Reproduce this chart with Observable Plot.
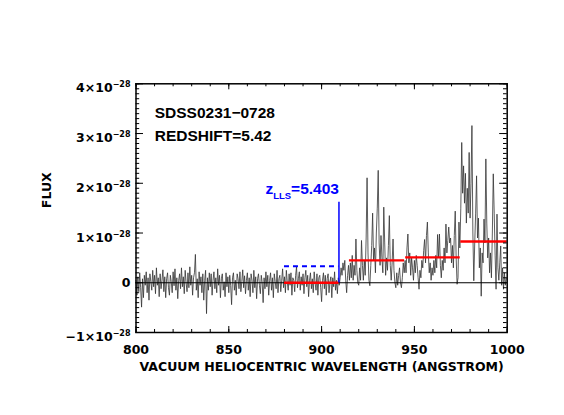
<!DOCTYPE html>
<html>
<head>
<meta charset="utf-8">
<script src="https://cdn.jsdelivr.net/npm/d3@7"></script>
<script src="https://cdn.jsdelivr.net/npm/@observablehq/plot@0.6"></script>
<style>
  html, body { margin: 0; padding: 0; background: white; }
</style>
</head>
<body>
<div id="chart"></div>
<script>
// ---- data (flux in units of 1e-28) ----
const waveStart = 800;
const waveStep = 0.5;
const flux = [
  // 800-809.5
  0.05,-0.25,0.12,-0.18,0.20,-0.10,-0.49,0.08,-0.30,0.15,-0.05,0.22,-0.20,0.10,-0.35,0.18,0.02,-0.15,0.25,-0.08,
  // 810
  0.15,-0.22,0.30,-0.05,0.10,-0.28,0.18,-0.12,0.05,0.26,-0.18,0.12,-0.30,0.08,0.20,-0.10,-0.25,0.15,0.02,-0.20,
  // 820
  0.22,-0.06,0.28,-0.15,0.10,-0.32,0.05,0.18,-0.12,0.30,-0.08,0.12,-0.22,0.25,0.00,-0.18,0.20,-0.10,0.32,-0.05,
  // 830
  0.15,-0.25,0.10,0.20,0.57,-0.15,0.08,-0.30,0.22,-0.05,0.12,-0.20,0.18,-0.35,0.05,0.25,-0.62,0.10,-0.15,0.20,
  // 840
  -0.08,0.18,-0.25,0.05,0.22,-0.12,0.10,-0.20,0.28,-0.05,0.15,-0.30,0.08,0.18,-0.15,0.02,-0.28,0.20,-0.08,0.12,
  // 850
  -0.20,0.15,-0.05,-0.44,0.10,0.20,-0.15,0.05,-0.25,0.18,0.08,-0.12,0.22,-0.18,0.02,0.26,-0.10,0.14,-0.22,0.05,
  // 860
  0.20,-0.15,0.10,-0.28,0.18,0.05,-0.20,0.25,-0.10,0.12,-0.32,0.08,0.18,-0.05,-0.22,0.15,0.00,-0.40,0.10,-0.12,
  // 870
  0.22,-0.08,0.15,-0.25,0.05,0.20,-0.15,0.10,-0.30,0.18,0.02,-0.12,0.25,-0.20,0.08,0.15,-0.18,0.05,0.28,-0.10,
  // 880
  0.12,-0.20,0.25,0.02,-0.15,0.18,-0.05,0.20,-0.25,0.10,0.05,-0.18,0.15,0.32,-0.10,0.08,0.22,-0.15,0.12,-0.05,
  // 890
  0.18,-0.22,0.10,0.25,-0.08,0.15,-0.28,0.05,0.20,-0.12,0.08,-0.20,0.22,0.00,-0.15,0.18,-0.25,0.10,0.15,-0.10,
  // 900
  -0.38,0.05,0.20,-0.12,0.15,-0.25,0.08,0.18,-0.20,0.02,0.12,-0.30,0.10,-0.08,0.22,-0.15,0.05,-0.22,0.10,-0.05,
  // 910
  0.10,0.30,0.15,0.40,0.25,0.45,0.05,-0.20,0.15,0.35,
  // 915
  0.05,0.40,0.10,0.55,0.05,0.35,0.15,0.88,0.25,0.00,
  // 920
  -0.05,0.30,0.05,0.85,0.35,0.05,0.45,0.15,0.90,2.11,
  // 925
  0.60,0.05,-0.06,0.35,0.75,1.40,0.45,0.70,0.20,1.00,
  // 930
  1.50,2.26,0.80,0.35,0.95,0.50,0.20,1.52,0.80,0.15,
  // 935
  0.50,0.25,0.75,1.35,0.35,0.05,0.40,0.88,0.25,0.00,
  // 940
  -0.10,0.20,-0.05,0.15,0.30,0.00,-0.10,0.10,0.40,0.20,
  // 945
  0.45,0.20,0.70,0.98,0.40,0.60,0.15,0.50,0.30,0.05,
  // 950
  0.45,0.20,0.55,0.35,0.10,-0.13,0.25,0.10,0.45,0.30,
  // 955
  0.65,0.87,0.40,0.95,1.22,0.60,0.20,0.40,0.05,0.30,
  // 960
  0.15,0.45,0.20,0.55,0.30,0.97,0.50,0.98,0.35,0.10,
  // 965
  0.45,0.25,0.70,0.40,1.18,0.60,0.85,1.12,0.80,0.90,
  // 970
  0.40,0.75,0.30,0.95,1.44,0.50,-0.03,0.10,1.22,0.70,
  // 975
  1.50,2.82,1.80,2.35,1.60,2.20,1.20,1.90,1.40,2.62,
  // 980
  1.30,2.00,3.16,1.00,0.04,0.80,1.40,2.15,0.90,1.30,
  // 985
  0.30,0.70,-0.27,0.60,0.40,1.28,0.80,2.49,1.20,0.50,
  // 990
  0.90,0.20,0.60,0.10,1.00,2.19,1.40,0.54,-0.13,1.38,
  // 995
  0.30,0.05,0.40,0.74,-0.05,0.30,-0.13,0.20,-0.05,0.10
];

// binned mean flux levels (red) and LLS marker (blue)
const binStart = [880, 915, 945.3, 975];
const binEnd   = [909.35, 944.7, 974.7, 1000];
const binMean  = [0.00, 0.45, 0.51, 0.83];
const llsWave = 909.35;
const llsTop = 1.62;
const dashedStart = 880;
const dashedLevel = 0.33;

const objectName = "SDSS0231\u22120728";
const redshiftText = "REDSHIFT=5.42";
const llsParts = ["z", "LLS", "=5.403"];

const xMajor = [800, 850, 900, 950, 1000];
const xMinor = d3.range(800, 1001, 10);
const yMajor = [-1, 0, 1, 2, 3, 4];
const yMinor = d3.range(-10, 41, 1).map(d => d / 10);
const yExponent = "\u221228";
const xTitle = "VACUUM HELIOCENTRIC WAVELENGTH (ANGSTROM)";
const yTitle = "FLUX";

// ---- layout ----
const W = 564, H = 415;
const mL = 135.5, mR = 57.3, mT = 83.3, mB = 83;
const fw = W - mL - mR, fh = H - mT - mB;

const spectrum = flux.map((f, i) => ({wave: waveStart + i * waveStep, flux: f}));
const yFmt = d => d === 0 ? "0" : (d < 0 ? "\u2212" : "") + Math.abs(d) + "\u00D710|" + yExponent;

const axisFont = {fontFamily: "DejaVu Sans", fontWeight: "bold", fontSize: 12.5};
const annFont = {fontFamily: "Liberation Sans", fontWeight: "bold", fontSize: 15.5};

const svg = Plot.plot({
  width: W, height: H,
  marginLeft: mL, marginRight: mR, marginTop: mT, marginBottom: mB,
  style: {background: "white", fontFamily: "DejaVu Sans"},
  x: {domain: [800, 1000]},
  y: {domain: [-1, 4]},
  marks: [
    Plot.line(spectrum, {x: "wave", y: "flux", stroke: "#333333", strokeWidth: 0.8}),
    Plot.ruleY([0], {stroke: "black", strokeWidth: 1}),
    Plot.ruleY(binMean, {y: d => d, x1: (d, i) => binStart[i], x2: (d, i) => binEnd[i], stroke: "#ff0000", strokeWidth: 2.4}),
    Plot.ruleY([dashedLevel], {x1: dashedStart, x2: llsWave, stroke: "#0000ff", strokeWidth: 2, strokeDasharray: "5,4"}),
    Plot.ruleX([llsWave], {y1: 0, y2: llsTop, stroke: "#0000ff", strokeWidth: 1.5}),
    // ticks (inward, all four sides)
    Plot.tickX(xMajor, {x: d => d, insetTop: fh - 6, stroke: "black"}),
    Plot.tickX(xMajor, {x: d => d, insetBottom: fh - 6, stroke: "black"}),
    Plot.tickX(xMinor, {x: d => d, insetTop: fh - 3, stroke: "black"}),
    Plot.tickX(xMinor, {x: d => d, insetBottom: fh - 3, stroke: "black"}),
    Plot.tickY(yMajor, {y: d => d, insetRight: fw - 7.5, stroke: "black"}),
    Plot.tickY(yMajor, {y: d => d, insetLeft: fw - 7.5, stroke: "black"}),
    Plot.tickY(yMinor, {y: d => d, insetRight: fw - 3.7, stroke: "black"}),
    Plot.tickY(yMinor, {y: d => d, insetLeft: fw - 3.7, stroke: "black"}),
    Plot.frame({stroke: "black", strokeWidth: 1.5}),
    // axis labels
    Plot.axisX(xMajor, {tickSize: 0, tickPadding: 12.7, tickFormat: d => String(d), label: null, ...axisFont}),
    Plot.axisY(yMajor.filter(d => d !== 0), {tickSize: 0, tickPadding: 5.5, tickFormat: yFmt, dy: 4.5, label: null, ...axisFont}),
    Plot.axisY([0], {tickSize: 0, tickPadding: 5.5, tickFormat: yFmt, dy: 0.5, label: null, ...axisFont}),
    Plot.text([xTitle], {text: d => d, frameAnchor: "bottom", lineAnchor: "bottom", dy: 38.5, fill: "black", ...axisFont}),
    Plot.text([yTitle], {text: d => d, frameAnchor: "left", rotate: -90, dx: -89, fill: "black", ...axisFont}),
    // annotations
    Plot.text([objectName], {text: d => d, x: 810.1, y: 3.32, textAnchor: "start", lineAnchor: "bottom", fill: "black", ...annFont}),
    Plot.text([redshiftText], {text: d => d, x: 810.1, y: 2.855, textAnchor: "start", lineAnchor: "bottom", fill: "black", ...annFont}),
    Plot.text([llsParts.join("")], {text: d => d, x: llsWave, y: 1.78, textAnchor: "end", lineAnchor: "bottom", fill: "#0000ff", className: "zlabel", ...annFont})
  ]
});

// superscript exponents on the y tick labels
d3.select(svg).selectAll("text").each(function () {
  const t = d3.select(this);
  const s = t.text();
  if (s.includes("|")) {
    const [base, exp] = s.split("|");
    t.text(null);
    t.append("tspan").text(base);
    t.append("tspan").attr("font-size", 8).attr("dy", -5).text(exp);
  }
});

// render the subscript in z_LLS
d3.select(svg).selectAll(".zlabel text").each(function () {
  const t = d3.select(this);
  t.text(null);
  t.append("tspan").text(llsParts[0]);
  t.append("tspan").attr("font-size", 9.5).attr("dy", 5).text(llsParts[1]);
  t.append("tspan").attr("dy", -5).text(llsParts[2]);
});

document.getElementById("chart").appendChild(svg);
</script>
</body>
</html>
